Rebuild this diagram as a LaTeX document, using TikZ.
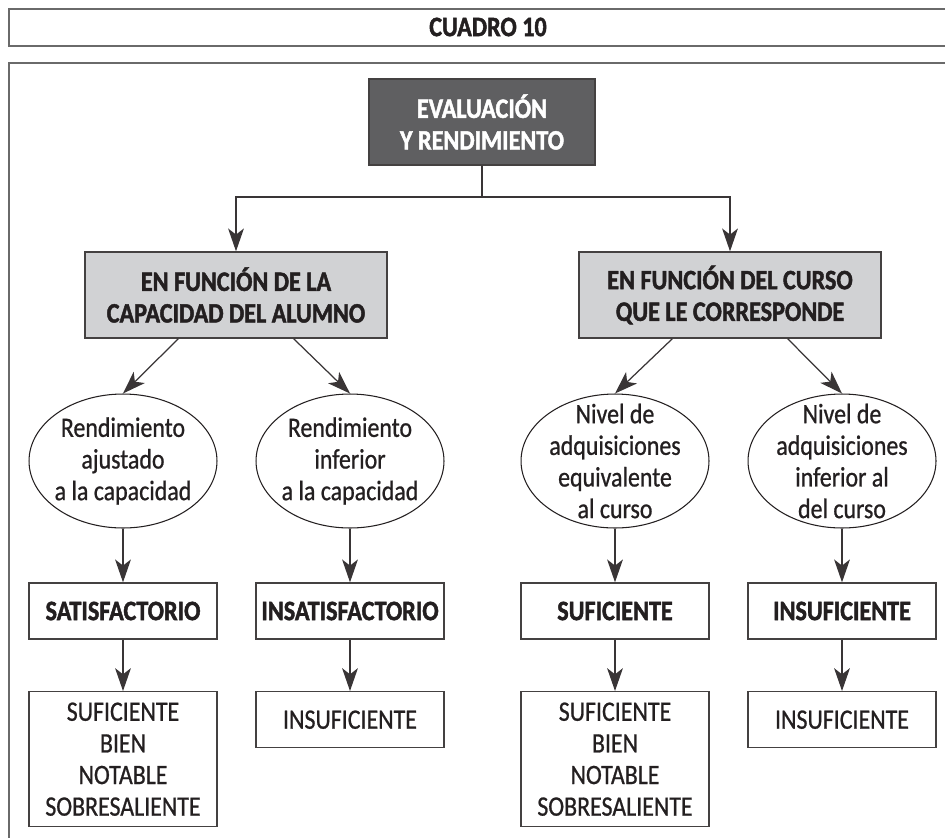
\documentclass[tikz,border=0pt]{standalone}
\usepackage{fontspec}
\setmainfont[FakeStretch=0.85, FakeBold=0.8, BoldFeatures={FakeStretch=0.86, FakeBold=1.6}]{Carlito}
\usepackage{xcolor}
\usetikzlibrary{arrows.meta}
\usetikzlibrary{shapes.geometric}
\usetikzlibrary{calc, math}

\definecolor{ink}{HTML}{231F20}
\definecolor{darkfill}{HTML}{5F5F61}
\definecolor{lightfill}{HTML}{D1D2D4}
\definecolor{rulegray}{HTML}{6A6A6A}

\tikzset{
  every node/.style={font=\fontsize{16}{18}\selectfont, text=ink, align=center},
  box/.style={draw=ink!85, line width=0.8pt, rectangle, inner sep=2pt},
  oval/.style={draw=ink, line width=0.6pt, ellipse, inner sep=0pt, minimum width=3.76cm, minimum height=2.68cm},
  arr/.style={draw=ink!90, line width=0.7pt, -{Stealth[length=13pt,width=9pt,inset=3.5pt]}},
}

\begin{document}
\begin{tikzpicture}[x=0.02cm, y=-0.02cm]
\tikzmath{
\xa=123;
\xb=350;
\xc=615;
\xd=842;
}
\useasboundingbox (0,0) rectangle (945,838);

\draw[rulegray, line width=1pt] (945,9) -- (9,9) -- (9,46) -- (945,46);%title strip
\draw[rulegray, line width=1pt] (945,63) -- (9,63) -- (9,838);%frame
\node (title) at (488,27) {\bfseries CUADRO 10};

\node[box, fill=darkfill, text=white, minimum width=4.52cm, minimum height=1.72cm] (eval) at (482,122) {\bfseries EVALUACIÓN\\\bfseries Y RENDIMIENTO};

\node[box, fill=lightfill, minimum width=6.04cm, minimum height=1.72cm] (capL) at (236,295) {\bfseries EN FUNCIÓN DE LA\\\bfseries CAPACIDAD DEL ALUMNO};
\node[box, fill=lightfill, minimum width=6.04cm, minimum height=1.72cm] (curR) at (730,295) {\bfseries EN FUNCIÓN DEL CURSO\\\bfseries QUE LE CORRESPONDE};

\node[oval] (elA) at (\xa,461) {};
\node[oval] (elB) at (\xb,461) {};
\node[oval] (elC) at (\xc,461) {};
\node[oval] (elD) at (\xd,461) {};
\node (elAt) at (elA) {Rendimiento\\ajustado\\a la capacidad};
\node (elBt) at (elB) {Rendimiento\\inferior\\a la capacidad};
\node (elCt) at (elC) {Nivel de\\adquisiciones\\equivalente\\al curso};
\node (elDt) at (elD) {Nivel de\\adquisiciones\\inferior al\\del curso};

\node[box, minimum width=3.76cm, minimum height=1.12cm] (satA) at (\xa,611) {\bfseries SATISFACTORIO};
\node[box, minimum width=3.76cm, minimum height=1.12cm] (insB) at (\xb,611) {\bfseries INSATISFACTORIO};
\node[box, minimum width=3.76cm, minimum height=1.12cm] (sufC) at (\xc,611) {\bfseries SUFICIENTE};
\node[box, minimum width=3.76cm, minimum height=1.12cm] (insD) at (\xd,611) {\bfseries INSUFICIENTE};

\node[box, anchor=north, minimum width=3.76cm, minimum height=2.7cm] (notA) at (\xa,691) {SUFICIENTE\\BIEN\\NOTABLE\\SOBRESALIENTE};
\node[box, anchor=north, minimum width=3.76cm, minimum height=1.12cm] (notB) at (\xb,691) {INSUFICIENTE};
\node[box, anchor=north, minimum width=3.76cm, minimum height=2.7cm] (notC) at (\xc,691) {SUFICIENTE\\BIEN\\NOTABLE\\SOBRESALIENTE};
\node[box, anchor=north, minimum width=3.76cm, minimum height=1.12cm] (notD) at (\xd,691) {INSUFICIENTE};

\coordinate (split) at (482,197);
\draw[draw=ink!90, line width=0.7pt] (eval.south) -- (split);
\draw[arr] (split) -| (capL.north);
\draw[arr] (split) -| (curR.north);

\draw[arr] ($(capL.south west)!0.31!(capL.south east)$) -- (elA.north);
\draw[arr] ($(capL.south west)!0.69!(capL.south east)$) -- (elB.north);
\draw[arr] ($(curR.south west)!0.31!(curR.south east)$) -- (elC.north);
\draw[arr] ($(curR.south west)!0.69!(curR.south east)$) -- (elD.north);

\draw[arr] (elA.south) -- (satA.north);
\draw[arr] (elB.south) -- (insB.north);
\draw[arr] (elC.south) -- (sufC.north);
\draw[arr] (elD.south) -- (insD.north);

\draw[arr] (satA.south) -- (notA.north);
\draw[arr] (insB.south) -- (notB.north);
\draw[arr] (sufC.south) -- (notC.north);
\draw[arr] (insD.south) -- (notD.north);
\end{tikzpicture}
\end{document}
